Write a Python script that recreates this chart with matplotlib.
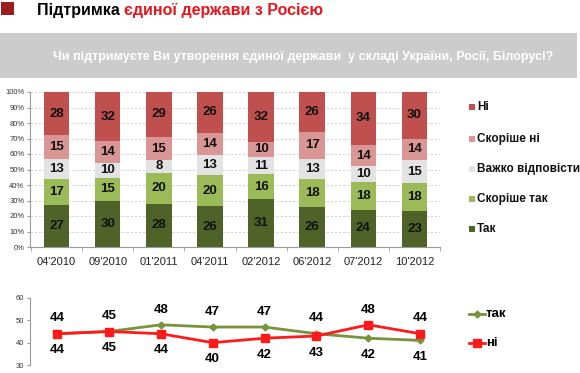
import matplotlib
matplotlib.use("Agg")
import matplotlib.pyplot as plt
from matplotlib.patches import Rectangle
from matplotlib.lines import Line2D

plt.rcParams["font.family"] = ["Liberation Sans", "DejaVu Sans"]

# data
periods = ["04'2010", "09'2010", "01'2011", "04'2011", "02'2012", "06'2012", "07'2012", "10'2012"]
tak = [27, 30, 28, 26, 31, 26, 24, 23]
skorishe_tak = [17, 15, 20, 20, 16, 18, 18, 18]
vazhko = [13, 10, 8, 13, 11, 13, 10, 15]
skorishe_ni = [15, 14, 15, 14, 10, 17, 14, 14]
ni = [28, 32, 29, 26, 32, 26, 34, 30]
line_tak = [44, 45, 48, 47, 47, 44, 42, 41]
line_ni = [44, 45, 44, 40, 42, 43, 48, 44]

series = [
    ("Так", tak, "#4f6228"),
    ("Скоріше так", skorishe_tak, "#9bbb59"),
    ("Важко відповісти", vazhko, "#e3e3e3"),
    ("Скоріше ні", skorishe_ni, "#d99694"),
    ("Ні", ni, "#c0504d"),
]

W, H = 580, 373
fig = plt.figure(figsize=(5.8, 3.73), dpi=100)


def fx(px):
    return px / W


def fy(py):
    return 1 - py / H


# header
fig.add_artist(Rectangle((fx(1), fy(15)), fx(13), 12.5 / H, transform=fig.transFigure,
                         facecolor="#9b1c23", edgecolor="none"))
t1 = fig.text(fx(37), fy(10), "Підтримка ", fontsize=11.5, fontweight="bold",
              color="black", va="center", ha="left")
fig.canvas.draw()
bb = t1.get_window_extent()
fig.text(bb.x1 / W, fy(10), "єдиної держави з Росією", fontsize=11.5, fontweight="bold",
         color="#e8141b", va="center", ha="left")

fig.add_artist(Rectangle((0, fy(78)), fx(577), 45 / H, transform=fig.transFigure,
                         facecolor="#cccccc", edgecolor="none"))
fig.text(fx(303), fy(57), "Чи підтримуєте Ви утворення єдиної держави  у складі України, Росії, Білорусі?",
         fontsize=9.0, fontweight="bold", color="white", ha="center", va="center")

# stacked bars (100% stacked, labels show the survey values)
x = list(range(len(periods)))
totals = [sum(col) for col in zip(tak, skorishe_tak, vazhko, skorishe_ni, ni)]
ax = fig.add_axes([fx(30), fy(247), fx(410), 155 / H])
bottom = [0.0] * len(periods)
for name, vals, col in series:
    heights = [v * 100 / t for v, t in zip(vals, totals)]
    ax.bar(x, heights, bottom=bottom, width=0.5, color=col, zorder=2)
    for i, v in enumerate(vals):
        ax.text(i, bottom[i] + heights[i] / 2, str(v), ha="center", va="center",
                fontsize=9.5, fontweight="bold", color="#111111", zorder=3)
    bottom = [b + h for b, h in zip(bottom, heights)]

ax.set_xlim(-0.52, 7.38)
ax.set_ylim(0, 100)
ax.set_yticks(range(0, 101, 10))
ax.set_yticklabels([f"{v}%" for v in range(0, 101, 10)], fontsize=5.5, color="#333333")
ax.yaxis.grid(True, linestyle=(0, (3, 2)), color="#cfcfcf", linewidth=0.6, zorder=0)
ax.set_xticks(x)
ax.set_xticklabels(periods, fontsize=8, color="#222222")
ax.tick_params(axis="x", length=0, pad=7)
ax.set_xticks([i + 0.5 for i in range(-1, len(periods))], minor=True)
ax.tick_params(axis="x", which="minor", length=3, color="#999999")
ax.tick_params(axis="y", length=2, color="#999999", pad=2)
for s in ["top", "right"]:
    ax.spines[s].set_visible(False)
for s in ["left", "bottom"]:
    ax.spines[s].set_color("#999999")
    ax.spines[s].set_linewidth(0.8)

# bar legend
leg_y = [229, 199, 169, 139, 107]
for (name, vals, col), py in zip(series, leg_y):
    fig.add_artist(Rectangle((fx(469), fy(py + 3)), fx(6), 6 / H, transform=fig.transFigure,
                             facecolor=col, edgecolor="none"))
    fig.text(fx(477), fy(py), name, fontsize=8.5, fontweight="bold", color="#111111",
             ha="left", va="center")

# line chart
ax2 = fig.add_axes([fx(30), fy(365), fx(410), 67 / H])
ax2.plot(x, line_tak, color="#77933c", linewidth=2, marker="D", markersize=3.5, zorder=2)
ax2.plot(x, line_ni, color="#ff1a1a", linewidth=2, marker="s", markersize=6, zorder=3)
for i in x:
    hi = max(line_tak[i], line_ni[i])
    lo = min(line_tak[i], line_ni[i])
    ax2.annotate(str(hi), (i, hi), xytext=(0, 11), textcoords="offset points",
                 ha="center", va="center", fontsize=9.5, fontweight="bold")
    ax2.annotate(str(lo), (i, lo), xytext=(0, -12), textcoords="offset points",
                 ha="center", va="center", fontsize=9.5, fontweight="bold")
ax2.set_xlim(-0.52, 7.38)
ax2.set_ylim(30, 60)
ax2.set_yticks([30, 40, 50, 60])
ax2.tick_params(axis="y", labelsize=5.5, labelcolor="#333333", length=2, color="#999999", pad=2)
ax2.set_xticks([])
for s in ["top", "right", "bottom"]:
    ax2.spines[s].set_visible(False)
ax2.spines["left"].set_color("#999999")
ax2.spines["left"].set_linewidth(0.8)

# line legend
for py, col, mk, ms, name in [(314, "#77933c", "D", 3.5, "так"), (343, "#ff1a1a", "s", 6, "ні")]:
    fig.add_artist(Line2D([fx(469), fx(485)], [fy(py), fy(py)], transform=fig.transFigure,
                          color=col, linewidth=2))
    fig.add_artist(Line2D([fx(477)], [fy(py)], transform=fig.transFigure, color=col,
                          marker=mk, markersize=ms, linestyle="none"))
    fig.text(fx(486), fy(py), name, fontsize=9.5, fontweight="bold", ha="left", va="center")

fig.savefig("out.png", dpi=100)
